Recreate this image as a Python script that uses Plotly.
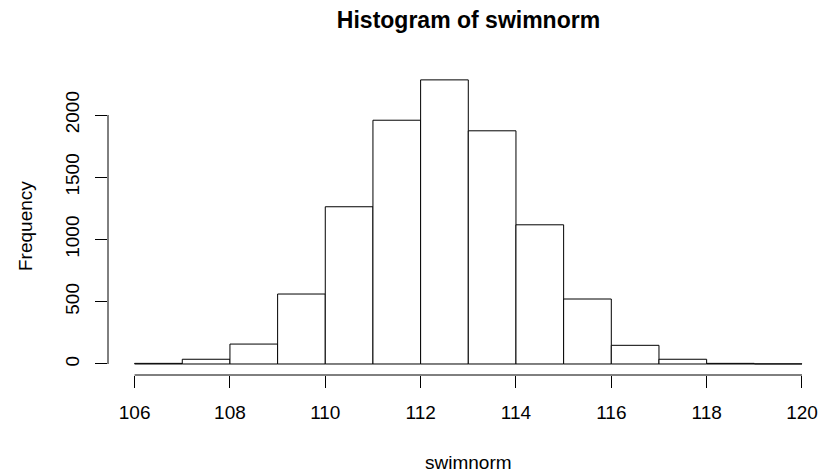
import plotly.graph_objects as go

# Data
breaks = [106, 107, 108, 109, 110, 111, 112, 113, 114, 115, 116, 117, 118, 119, 120]
counts = [5, 38, 160, 562, 1263, 1958, 2282, 1873, 1118, 522, 150, 38, 5, 1]
x_ticks = [106, 108, 110, 112, 114, 116, 118, 120]
y_ticks = [0, 500, 1000, 1500, 2000]

mids = [(a + b) / 2 for a, b in zip(breaks[:-1], breaks[1:])]
widths = [b - a for a, b in zip(breaks[:-1], breaks[1:])]

FONT = "Liberation Sans, Arial, Helvetica, sans-serif"

fig = go.Figure(
    go.Bar(
        x=mids,
        y=counts,
        width=widths,
        marker=dict(color="white", line=dict(color="black", width=1)),
        hoverinfo="x+y",
    )
)

fig.update_layout(
    width=822,
    height=474,
    margin=dict(l=108, r=0, t=68, b=99),
    paper_bgcolor="white",
    plot_bgcolor="white",
    showlegend=False,
    font=dict(family=FONT, size=19, color="black"),
    title=dict(
        text="<b>Histogram of swimnorm</b>",
        x=468.5 / 822,
        xanchor="center",
        y=1 - 20 / 474,
        yanchor="middle",
        xref="container",
        yref="container",
        font=dict(family=FONT, size=23, color="black"),
    ),
)

fig.update_xaxes(
    range=[105.442, 120.42],
    tickvals=x_ticks,
    ticktext=[str(v) for v in x_ticks],
    ticks="outside",
    ticklen=12,
    tickwidth=1,
    tickcolor="black",
    ticklabelstandoff=8,
    showline=False,
    showgrid=False,
    zeroline=False,
    tickfont=dict(size=19, family=FONT),
)
fig.update_yaxes(
    range=[-88.4, 2377.5],
    tickvals=y_ticks,
    ticktext=[str(v) for v in y_ticks],
    ticks="outside",
    ticklen=12,
    tickwidth=1,
    tickcolor="black",
    tickangle=-90,
    ticklabelstandoff=8,
    showline=False,
    showgrid=False,
    zeroline=False,
    tickfont=dict(size=19, family=FONT),
)

# axis lines spanning only the tick range (R style)
fig.add_shape(type="line", xref="x", yref="paper", x0=x_ticks[0], x1=x_ticks[-1],
              y0=0, y1=0, line=dict(color="black", width=1))
fig.add_shape(type="line", xref="paper", yref="y", x0=0, x1=0,
              y0=y_ticks[0], y1=y_ticks[-1], line=dict(color="black", width=1))

# axis titles
fig.add_annotation(text="swimnorm", xref="paper", yref="paper",
                   x=(468.5 - 108) / 714, y=0, xanchor="center", yanchor="middle",
                   yshift=-(462 - 375), showarrow=False,
                   font=dict(family=FONT, size=19, color="black"))
fig.add_annotation(text="Frequency", xref="paper", yref="paper",
                   x=0, y=(375 - 226) / 307, xanchor="center", yanchor="middle",
                   xshift=-(108 - 25), textangle=-90, showarrow=False,
                   font=dict(family=FONT, size=19, color="black"))

fig.write_html("out.html", config={"displayModeBar": False},
               post_script="document.body.style.margin='0';")
